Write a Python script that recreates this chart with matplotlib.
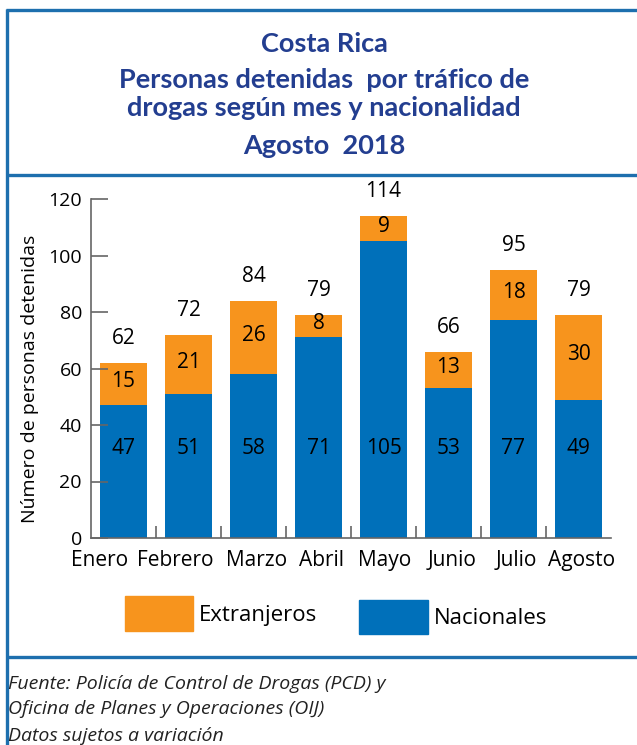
import numpy as np
import matplotlib.pyplot as plt
from matplotlib.lines import Line2D
from matplotlib.patches import Rectangle

meses = ["Enero", "Febrero", "Marzo", "Abril", "Mayo", "Junio", "Julio", "Agosto"]
nacionales = [47, 51, 58, 71, 105, 53, 77, 49]
extranjeros = [15, 21, 26, 8, 9, 13, 18, 30]

azul = "#0070BA"
naranja = "#F7941D"
titulo_col = "#233E90"
borde = "#1D6FAE"
gris = "#666666"

# month labels sit a bit left of the bar centres in the original
ajuste = [-0.37, -0.21, 0.04, 0.05, 0.02, 0.05, 0.04, 0.05]

W, H = 637, 745
fig = plt.figure(figsize=(W / 100, H / 100), dpi=100)

def fx(px):
    return px / W

def fy(py):
    return 1 - py / H

# frame
for xs, ys in [((7, 7), (9, 745)), ((6, 640), (10, 10)), ((7, 640), (175, 175)), ((7, 640), (657, 657))]:
    fig.add_artist(Line2D([fx(xs[0]), fx(xs[1])], [fy(ys[0]), fy(ys[1])],
                          color=borde, lw=2.4, solid_capstyle="butt"))

# title
tfont = dict(family="Lato", weight="bold", color=titulo_col, ha="center", va="center", fontsize=19.5)
fig.text(fx(324), fy(44), "Costa Rica", **tfont)
fig.text(fx(324), fy(80), "Personas detenidas  por tráfico de", **tfont)
fig.text(fx(324), fy(108), "drogas según mes y nacionalidad", **tfont)
fig.text(fx(324), fy(146), "Agosto  2018", **tfont)

ax = fig.add_axes([fx(91), fy(538), fx(611) - fx(91), fy(199) - fy(538)])
x = np.arange(len(meses))
ax.bar(x, nacionales, width=0.72, color=azul)
ax.bar(x, extranjeros, width=0.72, bottom=nacionales, color=naranja)

lf = dict(family="Open Sans", fontsize=15, color="black", ha="center", va="center")
for i in range(len(meses)):
    n, e = nacionales[i], extranjeros[i]
    ax.text(i, 31.7, str(n), **lf)
    ax.text(i, n + e / 2 + 0.8, str(e), **lf)
    ax.text(i, n + e + 8.5, str(n + e), **lf)

ax.set_xlim(-0.5, len(meses) - 0.5)
ax.set_ylim(0, 120)
ax.set_yticks(range(0, 121, 20))
ax.set_xticks(x + np.array(ajuste))
ax.set_xticklabels(meses, family="Open Sans", fontsize=15)
ax.set_xticks(np.arange(0.5, len(meses) - 0.5, 1), minor=True)
for lab in ax.get_yticklabels():
    lab.set_family("Open Sans")
    lab.set_fontsize(14)
ax.tick_params(axis="y", direction="in", length=12, width=1.2, color=gris, pad=6.5)
ax.tick_params(axis="x", which="major", length=0, pad=8.5)
ax.tick_params(axis="x", which="minor", direction="in", length=9, width=1.2, color=gris)
for s in ["top", "right"]:
    ax.spines[s].set_visible(False)
for s in ["left", "bottom"]:
    ax.spines[s].set_color(gris)
    ax.spines[s].set_linewidth(1.2)

fig.text(fx(30), fy(379), "Número de personas detenidas", family="Open Sans", fontsize=14,
         rotation=90, ha="center", va="center")

# legend
fig.add_artist(Rectangle((fx(125), fy(631)), fx(193) - fx(125), fy(596) - fy(631), color=naranja))
fig.add_artist(Rectangle((fx(359), fy(634)), fx(428) - fx(359), fy(600) - fy(634), color=azul))
fig.text(fx(199), fy(615), "Extranjeros", family="Open Sans", fontsize=16, va="center")
fig.text(fx(434), fy(619), "Nacionales", family="Open Sans", fontsize=16, va="center")

# footer
ff = dict(family="Open Sans", style="italic", fontsize=14, color="#222222", va="baseline")
fig.text(fx(8), fy(689), "Fuente: Policía de Control de Drogas (PCD) y", **ff)
fig.text(fx(8), fy(714), "Oficina de Planes y Operaciones (OIJ)", **ff)
fig.text(fx(8), fy(741), "Datos sujetos a variación", **ff)

fig.savefig("out.png", dpi=100)
